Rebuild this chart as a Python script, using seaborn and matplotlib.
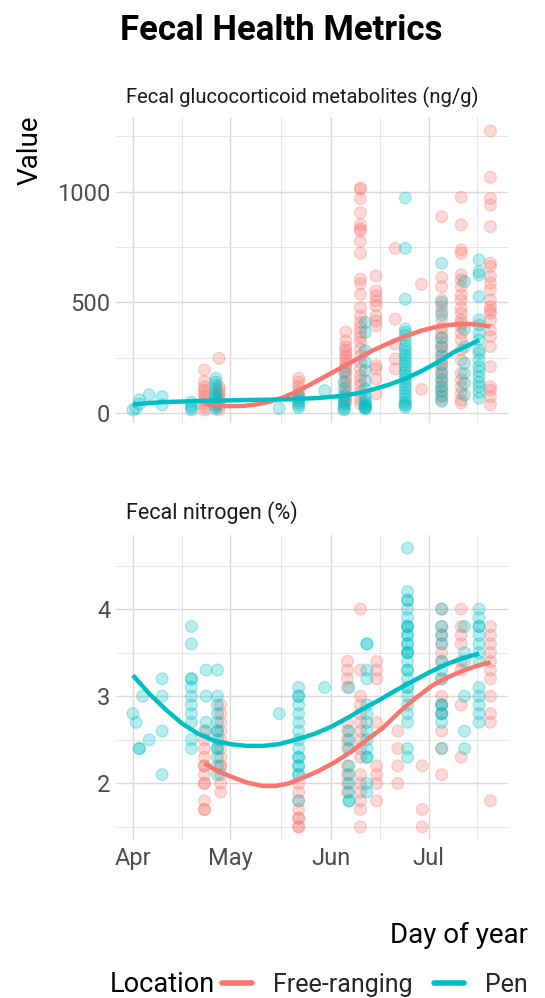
import numpy as np
import pandas as pd
import matplotlib
matplotlib.use("Agg")
import matplotlib.pyplot as plt
from matplotlib import font_manager as fm
from matplotlib.lines import Line2D
import seaborn as sns

# ---------------- data ----------------
# Glucocorticoid metabolites (ng/g): sampling day-of-year columns and their values
gc_free_days = [113, 117.5, 142, 156.5, 161, 165.8, 171.7, 179.8, 186, 192, 201]
gc_free_vals = [
    [195, 143, 120, 105, 90, 75, 60, 45, 30, 15],
    [248, 120, 105, 90, 75, 60, 45, 30, 15],
    [158, 140, 120, 100, 80, 60],
    [367, 327, 300, 285, 270, 255, 240, 225, 210, 195, 180, 160, 140, 120, 100, 80, 60, 45],
    [1017, 1010, 968, 905, 852, 833, 822, 777, 722, 605, 585, 537, 477, 440, 410, 387,
     365, 342, 320, 290, 260, 230, 200, 170, 147, 125, 95, 65, 42],
    [620, 552, 530, 507, 485, 440, 417, 395, 215, 200, 155, 87],
    [744, 425, 312, 245, 200],
    [582, 108],
    [887, 612, 571, 511, 481, 459, 421, 384, 361, 340, 320, 300, 280, 260, 240, 220,
     200, 180, 160, 140, 120, 100, 80, 60],
    [975, 850, 737, 722, 624, 602, 571, 534, 511, 474, 451, 421, 406, 391, 361, 331,
     286, 240, 180, 150, 120, 90, 60, 45],
    [1274, 1065, 970, 940, 842, 677, 662, 617, 587, 557, 511, 481, 466, 451, 421, 376,
     346, 301, 210, 120, 105, 75, 38],
]

gc_pen_days = [91, 92, 93, 96, 100, 109, 116.5, 136, 142, 150, 156, 162.5, 174.8, 186, 193, 197.5]
gc_pen_vals = [
    [15],
    [22],
    [60, 42],
    [83],
    [75, 38],
    [50, 35, 25, 15],
    [158, 140, 125, 110, 95, 80, 70, 60, 50, 40, 30, 20],
    [22],
    [85, 70, 55, 45, 35, 25],
    [102],
    [185, 140, 110, 80, 65, 50, 42, 30, 20, 15],
    [410, 365, 282, 230, 192, 147, 110, 80, 60, 50, 42, 35, 30, 27, 22, 20],
    [972, 744, 515, 380, 365, 350, 330, 305, 290, 275, 260, 245, 230, 215, 200, 185,
     170, 155, 140, 125, 110, 95, 80, 65, 50, 40, 35, 27],
    [677, 500, 444, 340, 300, 260, 220, 180, 150, 120, 100, 75, 53],
    [594, 380, 300, 226, 180, 135, 83],
    [692, 639, 624, 526, 421, 398, 361, 331, 286, 271, 240, 210, 190, 165, 140, 120, 95, 68],
]

# Fitted seasonal trend of glucocorticoid metabolites
gc_trend_free_days = [113, 117, 121, 125, 129, 133, 137, 141, 145, 150, 155, 160, 165,
                      170, 175, 180, 185, 190, 194, 198, 201]
gc_trend_free_vals = [42, 35, 32, 33, 40, 52, 70, 95, 125, 165, 205, 245, 285,
                      318, 348, 374, 392, 401, 403, 399, 391]
gc_trend_pen_days = [91, 95, 100, 110, 120, 130, 140, 148, 155, 160, 165, 170, 175,
                     180, 185, 190, 194, 197.5]
gc_trend_pen_vals = [40, 45, 50, 55, 58, 61, 63, 69, 78, 90, 108, 130, 157,
                     192, 232, 278, 305, 330]

# Fecal nitrogen (%): sampling day-of-year columns and their values
n_free_days = [113, 118, 142, 157, 161, 166, 172.5, 180, 186, 192, 201]
n_free_vals = [
    [2.6, 2.5, 2.4, 2.3, 2.2, 2.2, 2.1, 2.0, 2.0, 1.8, 1.7, 1.7],
    [2.9, 2.8, 2.7, 2.6, 2.5, 2.4, 2.3, 2.2, 2.2, 2.1, 2.0, 1.9],
    [2.0, 1.9, 1.8, 1.7, 1.6, 1.6, 1.5, 1.5],
    [3.4, 3.3, 3.2, 3.1, 2.7, 2.6, 2.5, 2.4, 2.2, 2.1, 2.0, 1.9],
    [4.0, 3.3, 3.0, 2.9, 2.8, 2.7, 2.6, 2.5, 2.4, 2.3, 2.1, 2.0, 1.9, 1.8, 1.7, 1.5],
    [3.4, 3.3, 3.2, 2.7, 2.2, 2.1, 2.0, 1.8],
    [2.6, 2.4, 2.2, 2.0],
    [2.2, 1.7, 1.5],
    [4.0, 3.8, 3.7, 3.6, 3.5, 3.4, 3.2, 3.0, 2.9, 2.8, 2.6, 2.4, 2.1],
    [4.0, 3.8, 3.7, 3.6, 3.4, 3.3, 2.9, 2.3],
    [3.8, 3.7, 3.6, 3.5, 3.4, 3.3, 3.2, 3.0, 2.8, 2.7, 1.8],
]

n_pen_days = [91, 92, 93, 94, 96, 100, 109, 113.5, 117, 136, 142, 150, 157.5, 163, 175.5, 186, 193, 197.5]
n_pen_vals = [
    [2.8],
    [2.7],
    [2.4, 2.4],
    [3.0],
    [2.5],
    [3.2, 3.0, 2.6, 2.1],
    [3.8, 3.6, 3.2, 3.2, 3.1, 3.0, 2.9, 2.8, 2.7, 2.5, 2.4],
    [3.3, 3.0, 2.7, 2.6],
    [3.3, 3.0, 2.9, 2.8, 2.7, 2.6, 2.6, 2.5, 2.4, 2.4, 2.3, 2.2, 2.1],
    [2.8],
    [3.1, 3.0, 3.0, 2.9, 2.8, 2.7, 2.6, 2.5, 2.4, 2.3, 2.3, 2.2, 2.2, 2.1, 2.1, 1.8],
    [3.1],
    [3.1, 2.6, 2.5, 2.4, 2.2, 2.1, 2.0, 1.9, 1.8, 1.8],
    [3.6, 3.6, 3.3, 3.2, 2.9, 2.8, 2.7, 2.6, 2.5, 2.4, 2.3, 2.3, 2.0, 1.9],
    [4.7, 4.2, 4.1, 4.1, 4.0, 3.9, 3.8, 3.8, 3.8, 3.7, 3.7, 3.6, 3.6, 3.5, 3.5, 3.5,
     3.4, 3.3, 3.3, 3.2, 3.1, 3.1, 3.0, 2.9, 2.8, 2.7, 2.4, 2.3],
    [4.0, 3.8, 3.7, 3.6, 3.4, 3.3, 3.2, 2.9, 2.9, 2.8, 2.8, 2.7, 2.4],
    [3.8, 3.5, 3.4, 3.0, 2.6, 2.4],
    [4.0, 3.9, 3.8, 3.8, 3.7, 3.6, 3.5, 3.4, 3.1, 3.0, 2.9, 2.8, 2.7],
]

# Fitted seasonal trend of fecal nitrogen
n_trend_free_days = [113, 117, 121, 126, 131, 135, 139, 143, 148, 153, 158, 163, 168,
                     173, 178, 183, 188, 193, 197, 201]
n_trend_free_vals = [2.23, 2.14, 2.08, 2.01, 1.97, 1.97, 2.00, 2.06, 2.14, 2.24, 2.36,
                     2.50, 2.64, 2.82, 2.98, 3.12, 3.22, 3.30, 3.35, 3.39]
n_trend_pen_days = [91, 96, 101, 106, 111, 116, 121, 126, 131, 136, 142, 147, 152, 157,
                    162, 167, 172, 177, 182, 187, 192, 197.5]
n_trend_pen_vals = [3.24, 3.03, 2.85, 2.69, 2.57, 2.49, 2.45, 2.43, 2.43, 2.45, 2.51,
                    2.57, 2.65, 2.75, 2.86, 2.96, 3.07, 3.17, 3.27, 3.36, 3.43, 3.49]

locations = ["Free-ranging", "Pen"]
palette = {"Free-ranging": "#F8766D", "Pen": "#00BFC4"}

month_ticks = [91, 121, 152, 182]
month_labels = ["Apr", "May", "Jun", "Jul"]
month_minor = [106, 136.5, 167, 197]

panel_titles = ["Fecal glucocorticoid metabolites (ng/g)", "Fecal nitrogen (%)"]


def to_frame(days, vals, loc):
    rows = [(d, v, loc) for d, col in zip(days, vals) for v in col]
    return pd.DataFrame(rows, columns=["day", "value", "Location"])


def trend_frame(days, vals, loc):
    return pd.DataFrame({"day": days, "value": vals, "Location": loc})


gc = pd.concat([to_frame(gc_free_days, gc_free_vals, "Free-ranging"),
                to_frame(gc_pen_days, gc_pen_vals, "Pen")], ignore_index=True)
gc_trend = pd.concat([trend_frame(gc_trend_free_days, gc_trend_free_vals, "Free-ranging"),
                      trend_frame(gc_trend_pen_days, gc_trend_pen_vals, "Pen")],
                     ignore_index=True)
nit = pd.concat([to_frame(n_free_days, n_free_vals, "Free-ranging"),
                 to_frame(n_pen_days, n_pen_vals, "Pen")], ignore_index=True)
nit_trend = pd.concat([trend_frame(n_trend_free_days, n_trend_free_vals, "Free-ranging"),
                       trend_frame(n_trend_pen_days, n_trend_pen_vals, "Pen")],
                      ignore_index=True)

# ---------------- styling ----------------
sns.set_theme(style="white")
available = {f.name for f in fm.fontManager.ttflist}
family = [f for f in ["Liberation Sans Narrow", "Roboto", "DejaVu Sans"] if f in available]
plt.rcParams["font.family"] = family

W, H = 545, 998
fig = plt.figure(figsize=(W / 100, H / 100), dpi=100)


def axes_px(left, top, right, bottom):
    return fig.add_axes([left / W, 1 - bottom / H, (right - left) / W, (bottom - top) / H])


ax1 = axes_px(116, 117, 508, 423)
ax2 = axes_px(116, 535, 508, 840)

grid_major = dict(color="#DADADA", linewidth=1.0)
grid_minor = dict(color="#E6E6E6", linewidth=0.7)

for ax, df, tr, yt, ymin, ylim in [
    (ax1, gc, gc_trend, [0, 500, 1000], [250, 750, 1250], (-44, 1337)),
    (ax2, nit, nit_trend, [2, 3, 4], [1.5, 2.5, 3.5, 4.5], (1.35, 4.85)),
]:
    sns.scatterplot(data=df, x="day", y="value", hue="Location", hue_order=locations,
                    palette=palette, alpha=0.28, s=72, edgecolor="face", linewidth=1.0,
                    legend=False, ax=ax, zorder=3)
    sns.lineplot(data=tr, x="day", y="value", hue="Location", hue_order=locations,
                 palette=palette, linewidth=3.2, legend=False, ax=ax, zorder=4,
                 solid_capstyle="butt", solid_joinstyle="round")
    ax.set_xlim(85.8, 206.4)
    ax.set_ylim(*ylim)
    ax.set_xticks(month_ticks)
    ax.set_xticks(month_minor, minor=True)
    ax.set_yticks(yt)
    ax.set_yticks(ymin, minor=True)
    ax.set_yticklabels([str(v) for v in yt])
    ax.grid(True, which="major", **grid_major)
    ax.grid(True, which="minor", **grid_minor)
    ax.set_axisbelow(True)
    for s in ax.spines.values():
        s.set_visible(False)
    ax.tick_params(which="both", length=0, labelsize=17, colors="#4D4D4D", pad=4)
    ax.set_xlabel("")
    ax.set_ylabel("")

ax1.set_xticklabels([])
ax2.set_xticklabels(month_labels)
ax2.tick_params(axis="x", pad=5)

# titles and labels
fig.text(281 / W, 1 - 30 / H, "Fecal Health Metrics", ha="center", va="center",
         fontsize=25, fontweight="bold", color="black")
fig.text(302 / W, 1 - 97 / H, panel_titles[0], ha="center", va="center",
         fontsize=14.5, color="#1A1A1A")
fig.text(126 / W, 1 - 513 / H, panel_titles[1], ha="left", va="center",
         fontsize=15.5, color="#1A1A1A")
fig.text(30 / W, 1 - 150 / H, "Value", rotation=90, ha="center", va="center",
         fontsize=20, color="black")
fig.text(528 / W, 1 - 935 / H, "Day of year", ha="right", va="center",
         fontsize=20, color="black")

# legend
fig.text(110 / W, 1 - 985 / H, "Location", ha="left", va="center", fontsize=19.5, color="black")
handles = [Line2D([], [], color=palette[l], linewidth=4) for l in locations]
fig.legend(handles, locations, loc="center left", bbox_to_anchor=(222 / W, 1 - 985 / H),
           ncol=2, frameon=False, fontsize=18, handlelength=1.2, handletextpad=0.85,
           columnspacing=0.85, borderpad=0, borderaxespad=0)

fig.savefig("out.png", dpi=100)
